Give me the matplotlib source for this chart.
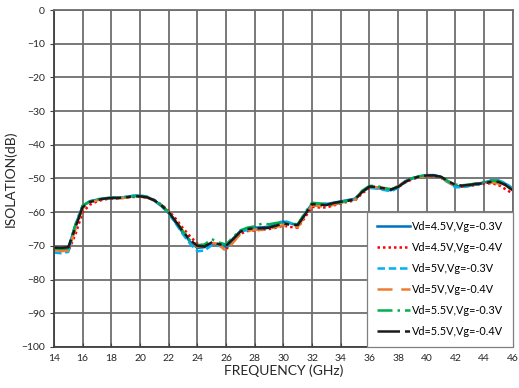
import numpy as np
import matplotlib
matplotlib.use('Agg')
import matplotlib.pyplot as plt

plt.rcParams['font.family'] = ['Lato', 'DejaVu Sans']

# frequency grid, GHz
freq = np.arange(14.0, 46.01, 0.5)

iso_45_03 = [-71.0, -71.2, -70.8, -63.8, -58.2, -56.8, -56.3, -55.9, -55.7, -55.7, -55.5, -55.2, -55.1,
             -55.5, -56.6, -58.2, -60.3, -63.2, -66.2, -68.8, -70.6, -70.4, -69.2, -69.6, -70.3, -67.8,
             -65.6, -64.9, -64.6, -64.5, -64.3, -63.6, -62.8, -63.3, -64.0, -60.5, -57.5, -57.6, -57.6,
             -57.2, -56.8, -56.4, -56.0, -53.8, -52.6, -52.8, -53.2, -53.5, -52.4, -50.8, -49.9, -49.4,
             -49.0, -49.0, -49.6, -51.0, -52.2, -52.4, -52.0, -51.6, -51.2, -50.6, -50.6, -51.6, -53.0]
iso_45_04 = [-71.2, -71.5, -71.6, -66.5, -60.0, -57.8, -56.8, -56.2, -56.0, -55.9, -55.7, -55.5, -55.4,
             -55.7, -56.4, -57.8, -59.6, -62.0, -64.8, -67.2, -69.4, -70.0, -69.2, -69.8, -71.0, -68.8,
             -66.4, -65.6, -65.4, -65.2, -65.0, -64.6, -64.0, -64.4, -64.6, -61.6, -58.4, -58.6, -58.6,
             -58.0, -57.4, -56.9, -56.5, -54.4, -52.8, -52.6, -52.9, -53.2, -52.6, -51.2, -50.2, -49.6,
             -49.3, -49.3, -49.8, -51.2, -52.2, -52.4, -52.2, -51.9, -51.6, -51.4, -51.9, -53.2, -54.5]
iso_50_03 = [-72.0, -72.2, -71.8, -64.0, -58.2, -56.8, -56.2, -55.9, -55.8, -55.7, -55.5, -55.1, -55.0,
             -55.4, -56.4, -58.2, -60.4, -63.4, -66.6, -69.4, -71.6, -71.4, -69.8, -70.0, -70.6, -68.0,
             -65.8, -65.3, -65.2, -65.0, -64.6, -63.6, -62.5, -63.2, -63.8, -60.6, -57.8, -57.8, -57.4,
             -57.6, -57.2, -56.6, -56.2, -53.8, -52.8, -53.0, -53.4, -53.8, -52.8, -51.0, -50.0, -49.5,
             -49.2, -49.0, -49.6, -51.2, -52.6, -52.6, -52.2, -51.8, -51.4, -50.8, -50.6, -51.4, -53.0]
iso_50_04 = [-71.2, -71.6, -71.4, -65.0, -58.8, -57.2, -56.5, -56.0, -55.9, -55.9, -55.7, -55.4, -55.4,
             -55.7, -56.5, -58.0, -60.0, -62.6, -65.6, -68.4, -70.3, -70.0, -69.0, -69.6, -71.6, -69.0,
             -66.4, -65.6, -65.2, -65.3, -64.9, -64.4, -63.8, -64.2, -64.4, -61.2, -58.0, -58.2, -58.5,
             -57.8, -57.1, -56.7, -56.3, -53.8, -52.5, -52.6, -52.8, -53.0, -52.3, -51.0, -50.1, -49.6,
             -49.2, -49.3, -49.8, -51.0, -52.0, -52.2, -51.8, -51.5, -51.3, -51.2, -51.5, -52.6, -53.2]
iso_55_03 = [-70.8, -70.9, -70.6, -63.6, -58.0, -56.8, -56.2, -55.9, -55.7, -55.7, -55.5, -55.3, -55.2,
             -55.5, -56.4, -57.9, -60.0, -62.8, -65.8, -68.4, -69.8, -69.6, -68.0, -69.0, -69.6, -67.4,
             -65.4, -64.6, -64.2, -63.4, -63.6, -63.2, -63.0, -63.4, -63.6, -60.2, -57.2, -57.4, -57.6,
             -57.8, -57.0, -56.6, -56.2, -53.6, -52.2, -52.2, -52.8, -53.2, -52.4, -50.9, -49.9, -49.3,
             -49.0, -49.1, -49.6, -50.8, -51.8, -52.0, -51.8, -51.4, -51.0, -50.6, -50.8, -51.8, -53.4]
iso_55_04 = [-70.5, -70.6, -70.4, -64.5, -58.5, -57.0, -56.4, -56.0, -55.8, -55.8, -55.6, -55.3, -55.3,
             -55.6, -56.5, -58.0, -60.0, -62.8, -65.8, -68.3, -70.0, -70.2, -69.0, -69.5, -70.0, -68.0,
             -65.8, -65.0, -64.8, -64.8, -64.6, -64.0, -63.3, -63.8, -63.8, -60.8, -57.6, -57.8, -57.9,
             -57.3, -56.9, -56.6, -56.2, -54.0, -52.4, -52.5, -52.9, -53.3, -52.5, -51.0, -50.0, -49.4,
             -49.1, -49.1, -49.5, -50.8, -51.9, -52.1, -51.9, -51.6, -51.4, -51.0, -51.0, -52.0, -53.5]

labels = ['Vd=4.5V,Vg=-0.3V', 'Vd=4.5V,Vg=-0.4V', 'Vd=5V,Vg=-0.3V',
          'Vd=5V,Vg=-0.4V', 'Vd=5.5V,Vg=-0.3V', 'Vd=5.5V,Vg=-0.4V']
series = [iso_45_03, iso_45_04, iso_50_03, iso_50_04, iso_55_03, iso_55_04]
colors = ['#0070C0', '#FF0000', '#00B0F0', '#ED7D31', '#00B050', '#1A1A1A']
styles = ['-', (0, (1, 1.2)), (0, (3, 1.5)), (0, (6, 3.5)), (0, (6, 2, 1, 2)), (0, (9, 2, 2, 2))]

fig = plt.figure(figsize=(5.19, 3.88), dpi=100)
ax = fig.add_axes([0.104, 0.106, 0.884, 0.868])

for vals, lab, col, ls in zip(series, labels, colors, styles):
    ax.plot(freq, vals, color=col, linestyle=ls, linewidth=1.8, label=lab)

ax.set_xlim(14, 46)
ax.set_ylim(-100, 0)
ax.set_xticks(np.arange(14, 47, 2))
ax.set_yticks(np.arange(-100, 1, 10))
ax.grid(True, color='#6E6E6E', linewidth=1.3)
ax.set_axisbelow(True)
for sp in ax.spines.values():
    sp.set_color('#6E6E6E')
    sp.set_linewidth(1.3)
ax.spines['bottom'].set_color('#404040')
ax.spines['left'].set_color('#404040')

ax.tick_params(axis='x', direction='in', length=3, labelsize=7.5, colors='#404040', labelcolor='#262626', pad=5)
ax.tick_params(axis='y', direction='out', length=3, labelsize=7.5, colors='#404040', labelcolor='#262626')
ax.set_xlabel('FREQUENCY (GHz)', fontsize=10, color='#262626', labelpad=1)
ax.set_ylabel('ISOLATION(dB)', fontsize=10, color='#262626', labelpad=3)

leg = ax.legend(loc='lower right', fontsize=7.8, frameon=True, fancybox=False,
                borderaxespad=0, handlelength=3.0, handletextpad=0.2,
                labelspacing=0.92, borderpad=0.9, framealpha=1)
leg.get_frame().set_edgecolor('#7F7F7F')
leg.get_frame().set_linewidth(0.9)

fig.savefig('out.png', dpi=100)
